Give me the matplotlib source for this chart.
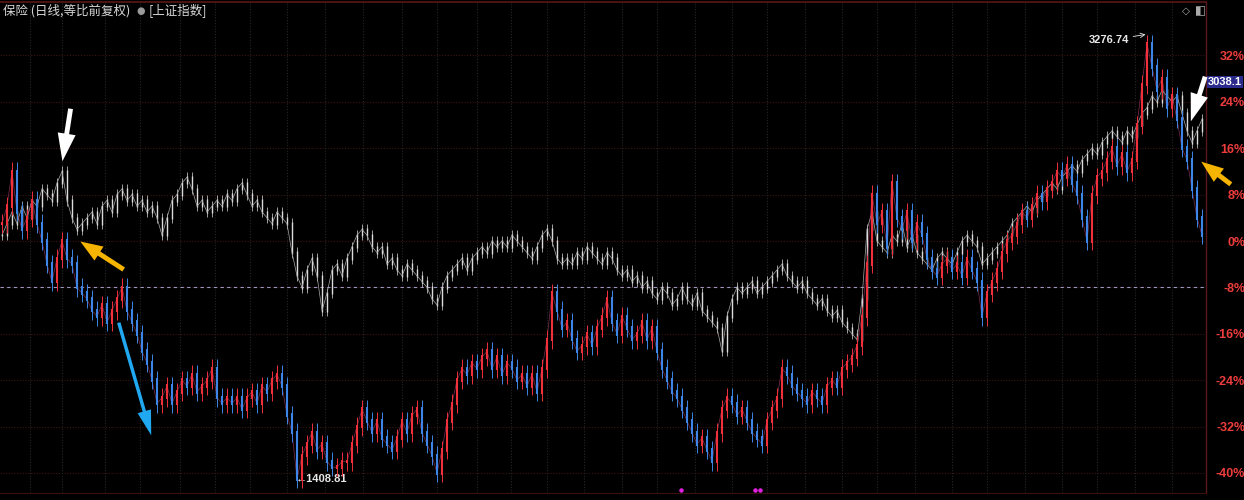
import matplotlib
matplotlib.use("Agg")
import matplotlib.pyplot as plt
import numpy as np

plt.rcParams['font.family'] = ['Noto Sans CJK SC', 'DejaVu Sans']

# ---- data (percent change, one value per bar) ----
insurance = [3, 6, 12, 5, 2, 4, 7, 3, 0, -4, -7, -3, 0, -3, -4, -8, -9, -10, -12, -13,
             -11, -14, -12, -10, -8, -12, -14, -16, -19, -21, -24, -28, -27, -25, -28, -26, -24, -25, -23, -26,
             -25, -24, -22, -27, -28, -27, -28, -27, -29, -27, -26, -28, -25, -26, -24, -23, -25, -30, -33, -41,
             -37, -35, -33, -36, -35, -38, -39, -39, -38, -38, -35, -32, -29, -31, -33, -31, -34, -35, -36, -34,
             -31, -33, -30, -29, -33, -35, -37, -40, -36, -31, -28, -24, -22, -23, -21, -22, -20, -19, -22, -20,
             -23, -21, -22, -24, -23, -25, -23, -26, -22, -17, -9, -12, -15, -14, -17, -19, -18, -16, -18, -15,
             -13, -10, -14, -16, -13, -15, -17, -16, -14, -17, -15, -19, -22, -24, -26, -27, -29, -31, -33, -35,
             -34, -36, -38, -33, -29, -27, -28, -30, -29, -31, -33, -34, -35, -31, -29, -27, -22, -23, -25, -26,
             -27, -28, -26, -27, -28, -25, -24, -25, -22, -21, -20, -18, -13, -4, 8, 3, 5, -1, 10, 4,
             2, 5, 0, 3, 1, -3, -5, -6, -4, -3, -5, -4, -6, -3, -5, -7, -13, -9, -7, -5,
             -2, 0, 1, 3, 5, 4, 6, 8, 7, 9, 10, 12, 11, 13, 10, 8, 4, 0, 8, 11,
             12, 14, 16, 13, 15, 12, 14, 20, 27, 34, 30, 26, 28, 23, 25, 21, 16, 14, 9, 4,
             1]
insurance_max_label = "3276.74"
insurance_min_label = "1408.81"

shanghai = [1, 3, 5, 3, 6, 4, 7, 6, 9, 8, 7, 10, 12, 7, 4, 2, 3, 4, 5, 3,
            6, 7, 5, 8, 9, 7, 8, 6, 7, 5, 6, 4, 1, 4, 7, 8, 10, 11, 9, 6,
            7, 5, 6, 7, 6, 8, 7, 9, 10, 8, 6, 7, 5, 4, 3, 5, 4, 3, -2, -6,
            -8, -5, -3, -6, -12, -9, -5, -4, -6, -3, -1, 1, 2, 1, -1, -2, -1, -4, -3, -5,
            -6, -4, -5, -6, -7, -8, -10, -11, -8, -6, -5, -4, -3, -5, -3, -2, -1, -2, 0, -1,
            0, -1, 1, 0, -1, -2, -3, -1, 1, 2, 0, -3, -4, -3, -4, -2, -3, -1, -2, -3,
            -4, -2, -3, -5, -6, -5, -7, -6, -8, -7, -9, -10, -8, -9, -11, -10, -8, -10, -11, -9,
            -12, -13, -14, -15, -19, -13, -10, -8, -9, -8, -7, -9, -8, -7, -6, -5, -4, -6, -7, -8,
            -7, -9, -10, -11, -10, -12, -13, -12, -14, -15, -16, -17, -10, 2, 5, 0, -1, -2, 1, 0,
            3, -1, 1, -2, -3, -4, -5, -3, -2, -3, -4, -2, 0, 1, 0, -1, -4, -3, -2, -1,
            0, 1, 3, 4, 5, 6, 5, 7, 8, 9, 10, 9, 11, 12, 13, 12, 14, 15, 16, 15,
            17, 18, 19, 18, 17, 19, 18, 20, 22, 23, 25, 24, 26, 25, 24, 25, 22, 19, 17, 19,
            21]

ytick_vals = [32, 24, 16, 8, 0, -8, -16, -24, -32, -40]
ytick_labels = [f"{v}%" for v in ytick_vals]
month_starts = [5.6, 12, 20.6, 27.6, 35.6, 42.6, 49.6, 57, 64.6, 72.2, 80, 87, 95, 101.8,
                109, 116.4, 124, 131, 138.6, 146, 153, 160.6, 168, 175, 182.6, 190, 197,
                204.6, 212, 219, 226.6, 234]
event_bars = [135.8, 150.6, 151.6]
base_level = -8
last_price_label = "3038.1"

NUM_FONT = ['Liberation Sans', 'DejaVu Sans']

# ---- figure ----
W, H = 1244, 500
fig = plt.figure(figsize=(W / 100, H / 100), dpi=100, facecolor='black')
ax = fig.add_axes([0, 7 / H, 1206 / W, (493 - 2) / H])
ax.set_facecolor('black')
n = len(insurance)
x = np.arange(n)
ax.set_xlim(-0.4, 240.8)
ax.set_ylim((241 - 493) / 5.8, (241 - 2) / 5.8)

# grid
for v in ytick_vals:
    ax.axhline(v, color='#3c1212', lw=0.8, ls=(0, (1, 1.5)), zorder=0)
for m in month_starts:
    ax.axvline(m, color='#262626', lw=0.8, ls=(0, (1, 1.5)), zorder=0)
ax.axhline(base_level, color='#9a98c0', lw=0.8, ls=(0, (3, 3)), zorder=1)

# shanghai candles (white)
sh = np.array(shanghai, dtype=float)
sh_open = np.r_[sh[0], sh[:-1]]
ax.vlines(x, np.minimum(sh_open, sh) - 0.9, np.maximum(sh_open, sh) + 0.9,
          color='#b8b8b8', lw=0.6, zorder=3)
ax.vlines(x, np.minimum(sh_open, sh) - 0.2, np.maximum(sh_open, sh) + 0.2,
          color='#dcdcdc', lw=1.0, zorder=3)
ax.plot(x, sh, color='#a8a8a8', lw=0.5, zorder=3)

# insurance candles (red up, blue down)
ins = np.array(insurance, dtype=float)
ins_open = np.r_[ins[0], ins[:-1]]
up = ins >= ins_open
cols = np.where(up, '#f0303a', '#3d86e8')
lo = np.minimum(ins_open, ins)
hi = np.maximum(ins_open, ins)
ax.vlines(x, lo - 1.6, hi + 1.6, colors=cols, lw=0.7, zorder=4)
ax.vlines(x, lo - 0.3, hi + 0.3, colors=cols, lw=1.5, zorder=4)
ax.plot(x, ins, color='#b04070', lw=0.5, alpha=0.7, zorder=3.9)

# max / min labels
imax = int(np.argmax(ins)); imin = int(np.argmin(ins))
ax.annotate(insurance_max_label, xy=(imax - 0.3, ins[imax] + 1.6), xytext=(imax - 3.6, ins[imax] + 0.6),
            color='#e8e8e8', fontsize=8, fontweight='bold', ha='right', va='center', family=NUM_FONT,
            arrowprops=dict(arrowstyle='->', color='#e8e8e8', lw=0.6, shrinkA=1, shrinkB=0))
ax.text(imin - 0.2, -41.0, "←" + insurance_min_label, color='#e8e8e8', fontsize=8, fontweight='bold',
        ha='left', va='center', family=NUM_FONT)

# event dots
ax.scatter(event_bars, [-43.0] * len(event_bars), s=5, color='#e020e0', zorder=5)

# axes cosmetics
ax.spines['left'].set_visible(False)
ax.spines['top'].set_color('#5a1818'); ax.spines['top'].set_linewidth(1.2)
ax.spines['right'].set_color('#5a1818'); ax.spines['right'].set_linewidth(1.0)
ax.spines['bottom'].set_color('#3a1010')
ax.set_xticks([])
ax.yaxis.tick_right()
ax.set_yticks(ytick_vals)
ax.set_yticklabels(ytick_labels, color='#ec3c3c', fontsize=9, fontweight='bold', family=NUM_FONT)
ax.tick_params(axis='y', length=0, pad=3)
for lab in ax.get_yticklabels():
    lab.set_horizontalalignment('right')
    lab.set_x(1.0 + 35 / 1206)

# last price box
fig.text(1242 / W, 1 - 82 / H, last_price_label, color='white', fontsize=8, fontweight='bold',
         ha='right', va='center', family=NUM_FONT,
         bbox=dict(boxstyle='square,pad=0.12', facecolor='#2a2a8c', edgecolor='none'))

# title
fig.text(3 / W, 1 - 11 / H, "保险 (日线,等比前复权)", color='#d8d8d8', fontsize=9, va='center')
fig.text(136 / W, 1 - 11 / H, "●", color='#9a9a9a', fontsize=7, va='center', family=['DejaVu Sans'])
fig.text(149 / W, 1 - 11 / H, "[上证指数]", color='#d8d8d8', fontsize=9, va='center')
fig.text(1182 / W, 1 - 11 / H, "◇", color='#aaaaaa', fontsize=7.5, va='center', family=['DejaVu Sans'])
fig.text(1195 / W, 1 - 11 / H, "◧", color='#aaaaaa', fontsize=8.5, va='center', family=['DejaVu Sans'])

# arrows (figure pixel coordinates)
def arrow(tail, head, color, hw, hl, tw):
    fig.add_artist(matplotlib.patches.FancyArrowPatch(
        (tail[0] / W, 1 - tail[1] / H), (head[0] / W, 1 - head[1] / H),
        transform=fig.transFigure,
        arrowstyle=f'simple,head_width={hw},head_length={hl},tail_width={tw}',
        color=color, mutation_scale=10, zorder=10, lw=0))

arrow((71, 106), (62, 164), 'white', 1.3, 2.0, 0.35)
arrow((1206, 74), (1190, 124), 'white', 1.3, 2.0, 0.35)
arrow((126, 271), (78, 240), '#f5b400', 1.2, 1.6, 0.35)
arrow((1233, 186), (1199, 160), '#f5b400', 1.2, 1.6, 0.35)
arrow((118, 320), (152, 438), '#20a8f0', 1.0, 1.8, 0.25)

fig.savefig('out.png', dpi=100, facecolor='black')
